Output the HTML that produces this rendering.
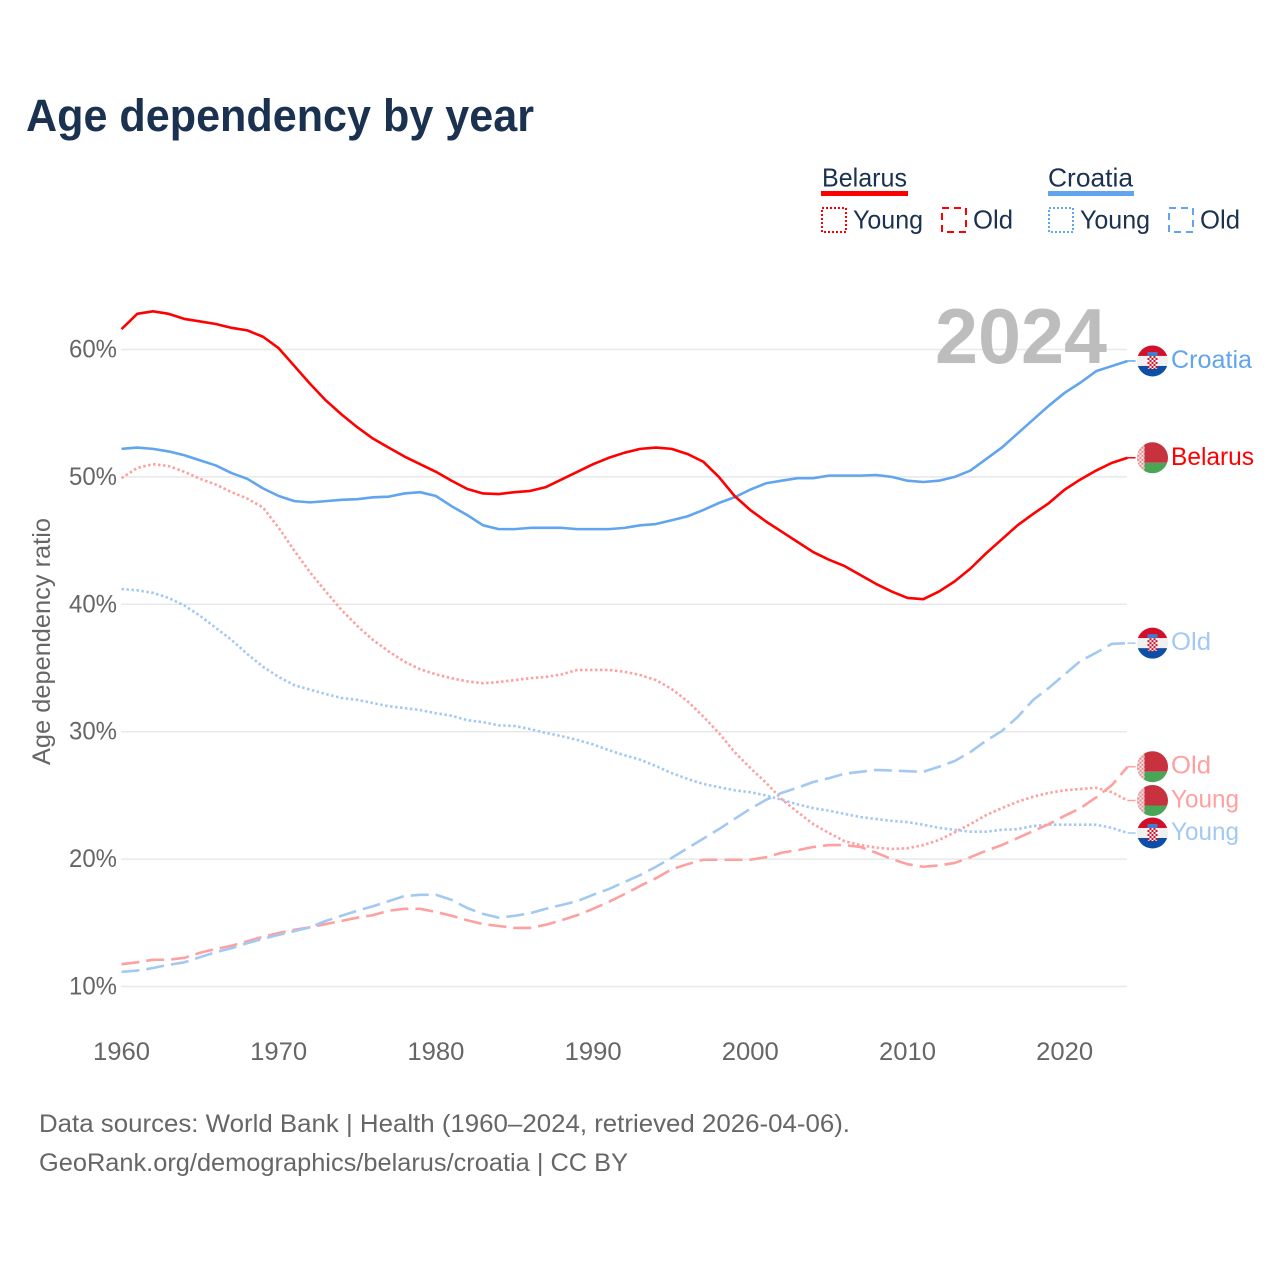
<!DOCTYPE html>
<html lang="en">
<head>
<meta charset="utf-8">
<title>Age dependency by year</title>
<style>
html,body{margin:0;padding:0;background:#fff;}
svg{display:block;font-family:"Liberation Sans",sans-serif;}
</style>
</head>
<body>
<svg id="chart" xmlns="http://www.w3.org/2000/svg" width="1280" height="1280" viewBox="0 0 1280 1280">
<defs>
<clipPath id="flag-clip"><circle cx="0" cy="0" r="15.5"></circle></clipPath>
<pattern id="checks" x="-5" y="-3" width="4" height="4" patternUnits="userSpaceOnUse">
<rect width="4" height="4" fill="#f4f4f4"></rect><rect width="2" height="2" fill="#d2102a"></rect><rect x="2" y="2" width="2" height="2" fill="#d2102a"></rect>
</pattern>
<pattern id="ornament" x="-15" y="-15" width="4" height="4" patternUnits="userSpaceOnUse">
<rect width="4" height="4" fill="#fbeeee"></rect><rect width="2" height="2" fill="#e08a90"></rect><rect x="2" y="2" width="2" height="2" fill="#e08a90"></rect>
</pattern>
<g id="flag-hr" clip-path="url(#flag-clip)">
<rect x="-16" y="-16" width="32" height="11" fill="#d2102a"></rect>
<rect x="-16" y="-5" width="32" height="10" fill="#f0f0f0"></rect>
<rect x="-16" y="5" width="32" height="11" fill="#0d4ea6"></rect>
<rect x="-5" y="-9" width="10" height="4" fill="#3f7fd0"></rect>
<rect x="-5" y="-5" width="10" height="13" rx="2" fill="url(#checks)"></rect>
</g>
<g id="flag-by" clip-path="url(#flag-clip)">
<rect x="-16" y="-16" width="32" height="21" fill="#c8313e"></rect>
<rect x="-16" y="5" width="32" height="11" fill="#4aa657"></rect>
<rect x="-16" y="-16" width="8" height="32" fill="url(#ornament)"></rect>
</g>
</defs>
<rect width="1280" height="1280" fill="#ffffff"></rect>
<text x="26" y="131" font-size="45" font-weight="700" fill="#1a3150" textLength="508" lengthAdjust="spacingAndGlyphs">Age dependency by year</text>

<g font-size="26" fill="#1a3150">
<text x="822" y="186.500" textLength="85" lengthAdjust="spacingAndGlyphs">Belarus</text>
<rect x="821" y="191" width="87" height="5" fill="#ff0000"></rect>
<text x="1048" y="186.500" textLength="85" lengthAdjust="spacingAndGlyphs">Croatia</text>
<rect x="1048" y="191" width="86" height="5" fill="#60a5ee"></rect>
<rect x="822" y="208" width="24" height="24" fill="none" stroke="#ff0000" stroke-width="2" stroke-dasharray="2 2"></rect>
<text x="853" y="228.500" textLength="70" lengthAdjust="spacingAndGlyphs">Young</text>
<rect x="942" y="208" width="24" height="24" fill="none" stroke="#ff0000" stroke-width="2" stroke-dasharray="7 5"></rect>
<text x="973" y="228.500" textLength="40" lengthAdjust="spacingAndGlyphs">Old</text>
<rect x="1049" y="208" width="24" height="24" fill="none" stroke="#60a5ee" stroke-width="2" stroke-dasharray="2 2"></rect>
<text x="1080" y="228.500" textLength="70" lengthAdjust="spacingAndGlyphs">Young</text>
<rect x="1169" y="208" width="24" height="24" fill="none" stroke="#60a5ee" stroke-width="2" stroke-dasharray="7 5"></rect>
<text x="1200" y="228.500" textLength="40" lengthAdjust="spacingAndGlyphs">Old</text>
</g>

<g id="grid"></g>
<text x="935" y="363" font-size="78" font-weight="700" fill="#bdbdbd" textLength="172" lengthAdjust="spacingAndGlyphs">2024</text>
<text transform="translate(50,765) rotate(-90)" font-size="25" fill="#666666" textLength="247" lengthAdjust="spacingAndGlyphs">Age dependency ratio</text>
<g id="ticks"></g>
<g id="series"></g>
<g id="end-labels"></g>

<text x="39" y="1132" font-size="25" fill="#666666" textLength="811" lengthAdjust="spacingAndGlyphs">Data sources: World Bank | Health (1960–2024, retrieved 2026-04-06).</text>
<text x="39" y="1171" font-size="25" fill="#666666" textLength="589" lengthAdjust="spacingAndGlyphs">GeoRank.org/demographics/belarus/croatia | CC BY</text>
</svg>
<script>
const startYear = 1960;
const yearTicks = [1960, 1970, 1980, 1990, 2000, 2010, 2020];
const valueTicks = [10, 20, 30, 40, 50, 60];

const belarusTotal = [61.6,62.8,63.0,62.8,62.4,62.2,62.0,61.7,61.5,61.0,60.1,58.7,57.3,56.0,54.9,53.9,53.0,52.3,51.6,51.0,50.4,49.7,49.05,48.7,48.65,48.8,48.9,49.2,49.8,50.4,51.0,51.5,51.9,52.2,52.3,52.2,51.8,51.2,50.0,48.5,47.4,46.5,45.7,44.9,44.1,43.5,43.0,42.3,41.6,41.0,40.5,40.4,41.0,41.8,42.8,44.0,45.1,46.2,47.1,47.95,49.0,49.8,50.5,51.1,51.5];
const croatiaTotal = [52.2,52.3,52.2,52.0,51.7,51.3,50.9,50.3,49.85,49.1,48.5,48.1,48.0,48.1,48.2,48.25,48.4,48.45,48.7,48.8,48.5,47.7,47.0,46.2,45.9,45.9,46.0,46.0,46.0,45.9,45.9,45.9,46.0,46.2,46.3,46.6,46.9,47.4,47.95,48.4,49.0,49.5,49.7,49.9,49.9,50.1,50.1,50.1,50.15,50.0,49.7,49.6,49.7,50.0,50.5,51.4,52.3,53.4,54.5,55.6,56.6,57.4,58.3,58.7,59.1];
const belarusYoung = [49.9,50.7,51.0,50.85,50.4,49.85,49.4,48.8,48.3,47.6,46.0,44.2,42.5,41.0,39.55,38.3,37.2,36.3,35.5,34.9,34.5,34.2,33.95,33.8,33.9,34.05,34.2,34.3,34.5,34.85,34.85,34.85,34.7,34.45,34.05,33.35,32.4,31.2,29.9,28.4,27.15,26.0,24.7,23.7,22.75,22.05,21.4,21.1,20.9,20.8,20.85,21.1,21.5,22.1,22.75,23.45,24.0,24.5,24.9,25.2,25.4,25.5,25.6,25.25,24.6];
const croatiaYoung = [41.2,41.1,40.9,40.5,39.9,39.1,38.15,37.2,36.1,35.1,34.3,33.65,33.3,32.95,32.65,32.5,32.25,32.0,31.85,31.7,31.45,31.25,30.9,30.75,30.5,30.45,30.2,29.9,29.65,29.35,29.0,28.55,28.15,27.8,27.3,26.75,26.3,25.9,25.65,25.4,25.25,25.0,24.65,24.3,24.0,23.8,23.55,23.3,23.15,23.0,22.9,22.7,22.45,22.3,22.15,22.15,22.3,22.35,22.6,22.7,22.7,22.7,22.7,22.45,22.05];
const belarusOld = [11.75,11.9,12.1,12.1,12.25,12.65,12.95,13.2,13.55,13.9,14.2,14.45,14.65,14.9,15.15,15.4,15.6,15.95,16.1,16.1,15.85,15.55,15.2,14.9,14.75,14.6,14.6,14.85,15.2,15.6,16.1,16.65,17.25,17.9,18.5,19.2,19.6,19.95,19.95,19.95,19.95,20.15,20.5,20.7,20.95,21.1,21.1,20.95,20.5,20.0,19.6,19.4,19.5,19.7,20.15,20.65,21.1,21.65,22.2,22.75,23.4,24.0,24.85,25.8,27.25];
const croatiaOld = [11.15,11.25,11.45,11.7,11.9,12.3,12.7,13.0,13.4,13.75,14.05,14.35,14.65,15.15,15.55,15.95,16.3,16.7,17.1,17.2,17.2,16.8,16.15,15.7,15.4,15.55,15.75,16.1,16.4,16.7,17.2,17.65,18.2,18.75,19.4,20.1,20.85,21.6,22.35,23.15,23.95,24.65,25.2,25.6,26.05,26.35,26.7,26.85,27.0,26.95,26.9,26.85,27.25,27.7,28.4,29.3,30.05,31.15,32.5,33.45,34.5,35.55,36.2,36.9,36.95];

const NS = 'http://www.w3.org/2000/svg';
function xScale(year) { return 121.5 + (year - 1960) * 15.72; }
function yScale(value) { return 986.5 - (value - 10) * 12.74; }
function make(tag, parent, attrs) {
  const el = document.createElementNS(NS, tag);
  for (const k in attrs) el.setAttribute(k, attrs[k]);
  parent.appendChild(el);
  return el;
}

const gridG = document.getElementById('grid');
const ticksG = document.getElementById('ticks');
const seriesG = document.getElementById('series');
const labelsG = document.getElementById('end-labels');

valueTicks.forEach(function (v) {
  const line = make('line', gridG, { x1: 121, x2: 1127, y1: yScale(v), y2: yScale(v), stroke: '#e8e8e8', 'stroke-width': 1.5 });
  
  
  const t = make('text', ticksG, { x: 69, y: yScale(v) + 8, 'font-size': 25, fill: '#666666', textLength: 48, lengthAdjust: 'spacingAndGlyphs' });
  t.textContent = v + '%';
  
  
});
yearTicks.forEach(function (yr) {
  const t = make('text', ticksG, { x: xScale(yr) - 28.5, y: 1060, 'font-size': 25, fill: '#666666', textLength: 57, lengthAdjust: 'spacingAndGlyphs' });
  t.textContent = yr;
  
  
});

const seriesList = [
  { key: 'belarus-young', data: belarusYoung, color: '#ffa0a0', dash: '2.5 2.5', label: 'Young', flag: 'flag-by', w: 68 },
  { key: 'croatia-young', data: croatiaYoung, color: '#a3c9f3', dash: '2.5 2.5', label: 'Young', flag: 'flag-hr', w: 68 },
  { key: 'belarus-old', data: belarusOld, color: '#ffa0a0', dash: '18 7', label: 'Old', flag: 'flag-by', w: 40 },
  { key: 'croatia-old', data: croatiaOld, color: '#a3c9f3', dash: '18 7', label: 'Old', flag: 'flag-hr', w: 40 },
  { key: 'croatia-total', data: croatiaTotal, color: '#60a5ee', dash: '', label: 'Croatia', flag: 'flag-hr', w: 81 },
  { key: 'belarus-total', data: belarusTotal, color: '#ff0000', dash: '', label: 'Belarus', flag: 'flag-by', w: 83 }
];

seriesList.forEach(function (s) {
  const pts = s.data.map(function (v, i) { return xScale(startYear + i).toFixed(2) + ',' + yScale(v).toFixed(2); }).join(' ');
  const line = make('polyline', seriesG, { points: pts, fill: 'none', stroke: s.color, 'stroke-width': 2.6, 'stroke-linejoin': 'round' });
  if (s.dash) line.setAttribute('stroke-dasharray', s.dash);
  
  

  const lastY = yScale(s.data[s.data.length - 1]);
  const lastX = xScale(startYear + s.data.length - 1);
  const leader = make('line', labelsG, { x1: lastX, x2: lastX + 8, y1: lastY, y2: lastY, stroke: s.color, 'stroke-width': 1.5 });
  
  

  const flag = make('use', labelsG, { href: '#' + s.flag, transform: 'translate(1152.5,' + lastY + ')' });
  
  

  const t = make('text', labelsG, { x: 1171, y: lastY + 7, 'font-size': 25, fill: s.color, textLength: s.w, lengthAdjust: 'spacingAndGlyphs' });
  t.textContent = s.label;
  
  
});
</script>
</body>
</html>
